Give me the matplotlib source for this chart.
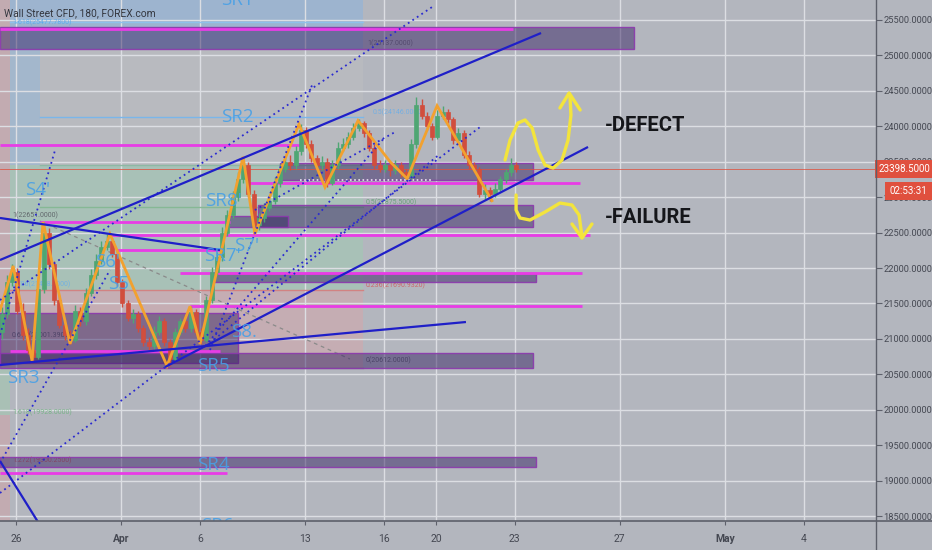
import matplotlib
matplotlib.use("Agg")
import matplotlib.pyplot as plt
from matplotlib.patches import Rectangle
from matplotlib.lines import Line2D
from matplotlib.ticker import FixedLocator, FuncFormatter
import matplotlib.transforms as mt

AXFONT = ['Roboto', 'Liberation Sans', 'DejaVu Sans']
plt.rcParams['font.family'] = AXFONT

# ---------------- data ----------------
TITLE = "Wall Street CFD, 180, FOREX.com"
X_TICK_POS = [0, 4, 7, 11, 14, 16, 19, 23, 27, 30]          # trading-day units
X_TICK_LABELS = ["26", "Apr", "6", "13", "16", "20", "23", "27", "May", "4"]
Y_TICKS = [18500, 19000, 19500, 20000, 20500, 21000, 21500, 22000,
           22500, 23000, 23500, 24000, 24500, 25000, 25500]

BAR_START = -0.55
BAR_STEP = 0.2
FIRST_OPEN = 21100
CLOSES = [21350, 21800, 21950, 21400, 21050, 20850, 20750, 21700, 22500, 22050,
          21550, 21200, 21050, 20980, 21400, 21250, 21650, 21900, 22100, 22300,
          22380, 22200, 21800, 21500, 21300, 21350, 21150, 20950, 20900, 21100,
          21250, 20950, 20720, 21100, 21250, 21150, 21380, 21100, 20980, 21550,
          21950, 22150, 22500, 22750, 23000, 23250, 23450, 23050, 22600, 22700,
          22850, 22950, 23200, 23400, 23500, 23450, 23650, 23950, 23750, 23550,
          23450, 23500, 23200, 23450, 23700, 23750, 23850, 23980, 24050, 23900,
          23700, 23450, 23400, 23450, 23380, 23450, 23350, 23300, 23750, 24300,
          24150, 24000, 23850, 24150, 24200, 24100, 23800, 23900, 23600, 23450,
          23400, 23050, 23100, 23050, 23120, 23250, 23350, 23450, 23398.5]
HIGHS = [21450, 21900, 22050, 22000, 21500, 21150, 20900, 21780, 22650, 22560,
         22100, 21620, 21300, 21120, 21480, 21450, 21720, 21980, 22200, 22380,
         22480, 22430, 22250, 21850, 21550, 21420, 21400, 21200, 21020, 21180,
         21320, 21300, 21000, 21150, 21300, 21330, 21460, 21420, 21150, 21600,
         22020, 22220, 22580, 22820, 23080, 23350, 23570, 23500, 23100, 22780,
         22920, 23020, 23280, 23470, 23580, 23600, 23720, 24030, 23990, 23800,
         23600, 23580, 23550, 23520, 23780, 23830, 23920, 24050, 24100, 24080,
         23950, 23750, 23520, 23530, 23500, 23520, 23500, 23400, 23820, 24420,
         24380, 24200, 24050, 24230, 24280, 24250, 24130, 23980, 23950, 23650,
         23500, 23430, 23180, 23150, 23200, 23300, 23400, 23550, 23500]
LOWS = [21000, 21300, 21750, 21350, 20980, 20780, 20690, 20720, 21650, 21980,
        21480, 21150, 20980, 20930, 20950, 21180, 21200, 21600, 21850, 22050,
        22250, 22150, 21750, 21450, 21250, 21220, 21100, 20900, 20850, 20860,
        21050, 20900, 20620, 20680, 21050, 21100, 21100, 21050, 20930, 20950,
        21500, 21900, 22100, 22450, 22700, 22950, 23200, 23000, 22480, 22530,
        22650, 22800, 22900, 23150, 23350, 23380, 23400, 23600, 23700, 23500,
        23400, 23380, 23140, 23170, 23400, 23650, 23700, 23800, 23930, 23850,
        23650, 23400, 23350, 23350, 23300, 23330, 23280, 23250, 23260, 23700,
        24100, 23950, 23800, 23820, 24100, 24050, 23750, 23750, 23550, 23400,
        23350, 23000, 22980, 22950, 23000, 23080, 23200, 23300, 23360]
LAST_PRICE = 23398.5
LAST_PRICE_TEXT = "23398.5000"
COUNTDOWN = "02:53:31"
COUNTDOWN_PRICE = 23087

ZIGZAG_D = [-0.61, -0.11, 0.61, 1.03, 2.06, 3.58, 5.75, 6.63, 7.01, 8.65,
            9.10, 10.78, 11.77, 13.03, 14.25, 14.90, 16.04, 18.13]
ZIGZAG_P = [21400, 22030, 20690, 22650, 20930, 22480, 20620, 21460, 20930, 23570,
            22480, 24030, 23140, 24080, 23500, 23260, 24290, 22950]

# background fib zones: (d0, d1, p_low, p_high, colour)
ZONES = [
    (-0.61, -0.23, 18000, 26000, '#c2abb1'),
    (-0.61, -0.23, 19926, 20589, '#a9c0b5'),
    (-0.23, 13.22, 25090, 26000, '#9db4cf'),
    (-0.23, 0.91, 23454, 25090, '#a3b7cc'),
    (0.91, 13.22, 23454, 25090, '#b8babf'),
    (-0.23, 13.22, 21690, 23454, '#a8c1b7'),
    (-0.23, 13.22, 20589, 21690, '#c5adb3'),
]
FIB_LINES = [  # (price, d0, d1, colour)
    (25472, -0.23, 13.22, '#8fc0ea'),
    (24131, 0.91, 13.22, '#7ab6ea'),
    (23454, 0.91, 13.22, '#8db8a4'),
    (22861, 0.91, 13.22, '#86b895'),
    (21690, -0.23, 13.22, '#d28282'),
    (20589, 0.91, 13.22, '#8c8c96'),
]
FIB_LABELS = [  # (d, price, text, colour)
    (-0.15, 25472, "1.618(25477.7800)", '#5aa8e8'),
    (-0.15, 22748, "1(22651.0000)", '#55585f'),
    (13.37, 25175, "1(25137.0000)", '#66666e'),
    (13.60, 24202, "0.5(24146.0000)", '#6aaee8'),
    (13.30, 22931, "0.5(22875.5000)", '#5e9f70'),
    (13.30, 21760, "0.236(21690.9320)", '#d05a5a'),
    (13.30, 20702, "0(20612.0000)", '#55585f'),
    (-0.15, 21770, "0.786(21458.5000)", '#6aaee8'),
    (-0.15, 21042, "0.618(21001.3900)", '#55585f'),
    (-0.15, 19955, "1.618(19928.0000)", '#6fb27f'),
    (-0.15, 19290, "1.272(19300.2500)", '#d05a5a'),
]

# purple zones: (d0, d1, p_low, p_high)
BOXES = [
    (-0.61, 23.54, 25090, 25401),
    (10.06, 19.70, 23242, 23482),
    (9.22, 19.70, 22579, 22889),
    (8.08, 10.36, 22579, 22734),
    (7.47, 19.81, 21803, 21929),
    (-0.61, 8.46, 20659, 21365),
    (-0.61, 19.70, 20589, 20801),
    (-0.61, 19.81, 19192, 19333),
]
# magenta levels: (price, d0, d1)
LEVELS = [
    (25373, -0.61, 18.93),
    (23736, -0.61, 10.82),
    (23200, 8.84, 21.49),
    (22649, 0.91, 8.15),
    (22466, 3.58, 21.87),
    (22254, 3.85, 7.77),
    (21929, 6.25, 21.56),
    (21464, 6.63, 21.56),
    (20829, -0.23, 7.77),
    (19107, -0.61, 8.04),
]
# solid trend lines ((d0, p0), (d1, p1))
TRENDS = [
    ((-0.61, 22113), (20.00, 25316)),
    ((5.68, 20603), (21.79, 23708)),
    ((-0.61, 20631), (17.14, 21238)),
    ((-0.61, 22706), (7.77, 22254)),
    ((-0.61, 19277), (0.91, 18373)),
]
# dotted trend lines
DOTTED = [
    ((-0.61, 21548), (15.85, 25683)),
    ((-0.61, 18825), (17.68, 23990)),
    ((-0.61, 19248), (3.58, 21972)),
    ((-0.61, 21055), (1.49, 23665)),
    ((7.39, 20843), (11.28, 24583)),
    ((7.20, 20899), (14.06, 23849)),
    ((7.39, 20942), (16.15, 23609)),
    ((9.10, 22818), (14.44, 23919)),
]
DASHED = [((0.91, 22663), (12.72, 20716))]
WHITE_DOTS = [(23242, 10.82, 15.89)]

SR_LABELS = [  # (d, price, text)
    (8.42, 25782, "SR1"), (8.42, 24131, "SR2"), (0.84, 23101, "S4'"),
    (7.92, 22945, "SR8'"), (3.50, 22085, "S6'"), (3.92, 21774, "S5"),
    (8.80, 22310, "S7'"), (7.85, 22170, "SR7'"), (8.69, 21097, "S8."),
    (7.50, 20617, "SR5"), (0.27, 20448, "SR3"), (7.50, 19220, "SR4"),
    (7.66, 18355, "SR6"),
]
UP_ARROW_D = [18.63, 18.82, 19.12, 19.39, 19.66, 19.89, 20.15, 20.46, 20.80, 21.03, 21.14, 21.10]
UP_ARROW_P = [23524, 23806, 24046, 24089, 23976, 23665, 23454, 23411, 23524, 23806, 24159, 24441]
UP_HEAD_D = [20.72, 21.07, 21.49]
UP_HEAD_P = [24258, 24470, 24230]
DN_ARROW_D = [19.05, 19.05, 19.20, 19.58, 20.15, 20.72, 21.18, 21.45, 21.56]
DN_ARROW_P = [23030, 22818, 22706, 22677, 22790, 22917, 22889, 22748, 22437]
DN_HEAD_D = [21.18, 21.56, 21.94]
DN_HEAD_P = [22621, 22423, 22621]
NOTES = [(22.44, 24004, "-DEFECT"), (22.44, 22706, "-FAILURE")]

# ---------------- style ----------------
BG = '#b3b6be'
GRID = '#dcdee3'
AXC = '#5d606b'
TXT = '#454852'
UP = '#4fa673'
DOWN = '#d14e3d'
MAGENTA = '#e83ce6'
BLUE = '#1f1fc8'
ORANGE = '#f2a12f'
YELLOW = '#f3e43c'
SRC = '#48a0e6'

fig = plt.figure(figsize=(9.32, 5.5), dpi=100)
fig.patch.set_facecolor(BG)
ax = fig.add_axes([0, 29 / 550, 876 / 932, 521 / 550])
ax.set_facecolor(BG)
ax.set_xlim(-0.6095, 32.76)
ax.set_ylim(18430, 25782)
for s in ax.spines.values():
    s.set_visible(False)

# grid
ax.xaxis.set_major_locator(FixedLocator(X_TICK_POS))
ax.set_xticklabels(X_TICK_LABELS)
ax.yaxis.set_major_locator(FixedLocator(Y_TICKS))
ax.yaxis.tick_right()
ax.yaxis.set_major_formatter(FuncFormatter(lambda v, p: f"{v:.4f}"))
ax.grid(True, color=GRID, lw=1.0)
ax.set_axisbelow(True)
ax.tick_params(axis='y', length=4, color=AXC, labelcolor=TXT, labelsize=6.7, pad=1.5)
ax.tick_params(axis='x', length=3, color=AXC, labelcolor=TXT, labelsize=7.5, pad=6)
for lbl in ax.get_xticklabels():
    if lbl.get_text() in ("Apr", "May"):
        lbl.set_fontweight('bold')

# zones
for d0, d1, p0, p1, c in ZONES:
    ax.add_patch(Rectangle((d0, p0), d1 - d0, p1 - p0, fc=c, ec='none', zorder=0.2))
for p, d0, d1, c in FIB_LINES:
    ax.plot([d0, d1], [p, p], color=c, lw=1.0, zorder=0.6)
for d, p, t, c in FIB_LABELS:
    ax.text(d, p, t, color=c, fontsize=5, va='center', ha='left', zorder=0.7, alpha=0.85)

# purple boxes
for d0, d1, p0, p1 in BOXES:
    ax.add_patch(Rectangle((d0, p0), d1 - d0, p1 - p0, fc=(0.2, 0.12, 0.38, 0.48),
                           ec=(0.55, 0.22, 0.68, 0.9), lw=1.0, zorder=1))

# magenta levels
for p, d0, d1 in LEVELS:
    ax.plot([d0, d1], [p, p], color=MAGENTA, lw=2, zorder=2, solid_capstyle='butt')
for p, d0, d1 in WHITE_DOTS:
    ax.plot([d0, d1], [p, p], color='#e8e8f0', lw=1.2, ls=(0, (1, 1.5)), zorder=2)

# last price line
ax.axhline(LAST_PRICE, color='#e0503e', lw=0.6, zorder=1.5, alpha=0.9)

# candles
x = [BAR_START + i * BAR_STEP for i in range(len(CLOSES))]
opens = [FIRST_OPEN] + CLOSES[:-1]
cols = [UP if c >= o else DOWN for o, c in zip(opens, CLOSES)]
ax.vlines(x, LOWS, HIGHS, colors=cols, lw=1.0, zorder=3)
bottoms = [min(o, c) for o, c in zip(opens, CLOSES)]
heights = [max(abs(c - o), 15) for o, c in zip(opens, CLOSES)]
ax.bar(x, heights, bottom=bottoms, width=0.155, color=cols, edgecolor=cols, lw=0.5, zorder=3.1)

# zigzag
ax.plot(ZIGZAG_D, ZIGZAG_P, color=ORANGE, lw=2, zorder=4, solid_joinstyle='miter')

# trend lines
for (d0, p0), (d1, p1) in TRENDS:
    ax.plot([d0, d1], [p0, p1], color=BLUE, lw=1.6, zorder=4.5, solid_capstyle='butt')
for (d0, p0), (d1, p1) in DOTTED:
    ax.plot([d0, d1], [p0, p1], color='#2a2ad0', lw=1.3, ls=(0, (1, 2)), zorder=4.4)
for (d0, p0), (d1, p1) in DASHED:
    ax.plot([d0, d1], [p0, p1], color='#8a8a8a', lw=0.9, ls=(0, (3, 3)), zorder=0.8)

# SR labels
for d, p, t in SR_LABELS:
    ax.text(d, p, t, color=SRC, fontsize=13.5, ha='center', va='center',
            family=['Open Sans', 'DejaVu Sans'], zorder=5, clip_on=True, alpha=0.9)

# yellow arrows
yk = dict(color=YELLOW, lw=2.4, zorder=6, solid_capstyle='round', solid_joinstyle='round')
ax.plot(UP_ARROW_D, UP_ARROW_P, **yk)
ax.plot(UP_HEAD_D, UP_HEAD_P, **yk)
ax.plot(DN_ARROW_D, DN_ARROW_P, **yk)
ax.plot(DN_HEAD_D, DN_HEAD_P, **yk)
for d, p, t in NOTES:
    ax.text(d, p, t, color='#15161a', fontsize=14.5, fontweight='bold', ha='left', va='center',
            family=['Roboto', 'DejaVu Sans'], zorder=6)

# title
ax.text(0.005, 0.985, TITLE, transform=ax.transAxes, color='#34373f', fontsize=7.4,
        ha='left', va='top', zorder=7)

# price tag
bt = mt.blended_transform_factory(ax.transAxes, ax.transData)
ax.text(1.003, LAST_PRICE, LAST_PRICE_TEXT, transform=bt, color='white', fontsize=7,
        ha='left', va='center', clip_on=False, zorder=8,
        bbox=dict(boxstyle='square,pad=0.4', fc='#e0503e', ec='none'))
bf = mt.blended_transform_factory(fig.transFigure, ax.transData)
ax.text(0.995, COUNTDOWN_PRICE, COUNTDOWN, transform=bf, color='white', fontsize=7,
        ha='right', va='center', clip_on=False, zorder=8,
        bbox=dict(boxstyle='square,pad=0.45', fc='#e0503e', ec='none'))

# axis frame lines
fig.add_artist(Line2D([0, 1], [29 / 550, 29 / 550], transform=fig.transFigure, color=AXC, lw=1.2))
fig.add_artist(Line2D([876 / 932, 876 / 932], [0, 1], transform=fig.transFigure, color=AXC, lw=1.0))

fig.savefig('out.png', dpi=100, facecolor=BG)
